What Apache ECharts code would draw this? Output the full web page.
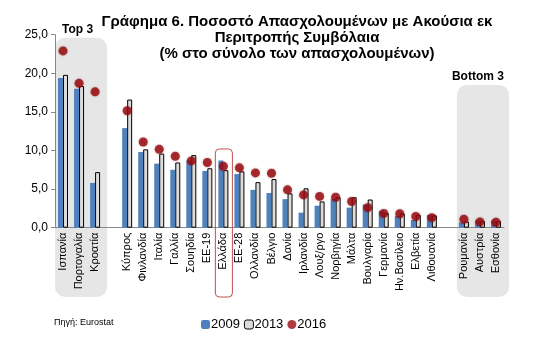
<!DOCTYPE html>
<html>
<head>
<meta charset="utf-8">
<script src="https://cdn.jsdelivr.net/npm/echarts@6/dist/echarts.min.js"></script>
</head>
<body style="margin:0">
<div id="main" style="width:535px;height:353px;"></div>
<script type="text/javascript">
// κατηγορίες (τα κενά είναι διαχωριστικά)
var cats = ['Ισπανία', 'Πορτογαλία', 'Κροατία', '',
	'Κύπρος', 'Φινλανδία', 'Ιταλία', 'Γαλλία', 'Σουηδία', 'ΕΕ-19', 'Ελλάδα', 'ΕΕ-28',
	'Ολλανδία', 'Βέλγιο', 'Δανία', 'Ιρλανδία', 'Λουξ/ργο', 'Νορβηγία', 'Μάλτα',
	'Βουλγαρία', 'Γερμανία', 'Ην.Βασίλειο', 'Ελβετία', 'Λιθουανία', '',
	'Ρουμανία', 'Αυστρία', 'Εσθονία'];
var v2009 = [19.4, 18.0, 5.8, '-',
	12.9, 9.8, 8.3, 7.5, 8.7, 7.35, 8.7, 6.95,
	4.9, 4.5, 3.7, 1.95, 2.85, 3.7, 2.6,
	3.0, 2.15, 1.5, 1.0, 1.65, '-',
	0.7, 0.95, 0.95];
var v2013 = [19.8, 18.35, 7.2, '-',
	16.6, 10.15, 9.6, 8.45, 9.4, 7.7, 7.45, 7.3,
	5.9, 6.3, 4.45, 5.1, 3.4, 3.95, 3.95,
	3.65, 1.9, 1.85, 1.65, 1.6, '-',
	0.8, 0.85, 0.85];
var v2016 = [22.9, 18.7, 17.6, '-',
	15.15, 11.1, 10.15, 9.25, 8.65, 8.45, 7.95, 7.75,
	7.1, 7.05, 4.9, 4.25, 4.05, 3.95, 3.4,
	2.6, 1.85, 1.8, 1.45, 1.3, '-',
	1.1, 0.75, 0.7];

var font = 'Liberation Sans, Arial, sans-serif';
var myChart = echarts.init(document.getElementById('main'));

option = {
	animation: false,
	textStyle: { fontFamily: font },
	title: {
		text: 'Γράφημα 6. Ποσοστό Απασχολουμένων με Ακούσια εκ\nΠεριτροπής Συμβόλαια\n(% στο σύνολο των απασχολουμένων)',
		left: 292,
		top: 9,
		textAlign: 'center',
		textStyle: { fontSize: 15, fontWeight: 'bold', color: '#000', lineHeight: 16, fontFamily: font }
	},
	legend: {
		data: [
			{ name: '2009' },
			{ name: '2013', itemStyle: { color: '#DCDCDC', borderColor: '#000', borderWidth: 1 } },
			{ name: '2016' }
		],
		left: 196,
		top: 313,
		itemWidth: 9,
		itemHeight: 9,
		itemGap: 4,
		textStyle: { fontSize: 13, color: '#000', padding: [0, 0, 0, -4] }
	},
	grid: { left: 55, right: 31, top: 34.7, bottom: 125.3 },
	xAxis: {
		type: 'category',
		data: cats,
		axisLine: { lineStyle: { color: '#888' } },
		axisTick: { alignWithLabel: false, length: 4, lineStyle: { color: '#888' } },
		axisLabel: { rotate: 90, interval: 0, fontSize: 11, color: '#000', margin: 5 }
	},
	yAxis: {
		type: 'value',
		min: 0,
		max: 25,
		interval: 5,
		splitLine: { show: false },
		axisLine: { show: true, lineStyle: { color: '#888' } },
		axisTick: { show: true, length: 4, lineStyle: { color: '#888' } },
		axisLabel: {
			fontSize: 12, color: '#000', margin: 7,
			formatter: function (v) { return v.toFixed(1).replace('.', ','); }
		}
	},
	series: [
		{
			name: '2009',
			type: 'bar',
			data: v2009,
			barWidth: 5,
			barGap: '0%',
			itemStyle: { color: '#4F81BD' }
		},
		{
			name: '2013',
			type: 'bar',
			data: v2013,
			barWidth: 5,
			itemStyle: { color: '#DCDCDC', borderColor: '#000', borderWidth: 1 }
		},
		{
			name: '2016',
			type: 'scatter',
			data: v2016,
			symbolSize: 9,
			z: 5,
			itemStyle: { color: '#9C0A0E', shadowBlur: 2, shadowColor: 'rgba(90,0,0,0.5)' }
		}
	]
};
myChart.setOption(option);

// γκρι πλαίσια Top 3 / Bottom 3 και κόκκινο πλαίσιο Ελλάδας
function px(i, v) { return myChart.convertToPixel({ gridIndex: 0 }, [i, v]); }
var w = px(1, 0)[0] - px(0, 0)[0];
var t3x0 = px(0, 0)[0] - w / 2, t3x1 = px(2, 0)[0] + w / 2 + 4, t3y = px(0, 24.6)[1];
var b3x0 = px(25, 0)[0] - w / 2 + 1, b3x1 = px(27, 0)[0] + w / 2 + 5, b3y = px(25, 18.5)[1];
var gx0 = px(10, 0)[0] - w / 2, gy = px(10, 10.2)[1];
var bottomY = 297;

myChart.setOption({
	graphic: [
		{ type: 'rect', z: -10, shape: { x: t3x0, y: t3y, width: t3x1 - t3x0, height: bottomY - t3y, r: 10 },
			style: { fill: '#E6E6E6' } },
		{ type: 'rect', z: -10, shape: { x: b3x0, y: b3y, width: b3x1 - b3x0, height: bottomY - b3y, r: 10 },
			style: { fill: '#E6E6E6' } },
		{ type: 'rect', z: 10, shape: { x: gx0, y: gy, width: w + 1, height: bottomY - gy, r: 4 },
			style: { fill: 'none', stroke: '#C0504D', lineWidth: 1 } },
		{ type: 'text', z: 10, left: t3x0 + 7, top: 24,
			style: { text: 'Top 3', font: 'bold 12px ' + font, fill: '#000' } },
		{ type: 'text', z: 10, left: b3x0 - 5, top: 71,
			style: { text: 'Bottom 3', font: 'bold 12px ' + font, fill: '#000' } },
		{ type: 'text', z: 10, left: 54, top: 318,
			style: { text: 'Πηγή: Eurostat', font: '9px ' + font, fill: '#000' } }
	]
});
</script>
</body>
</html>
